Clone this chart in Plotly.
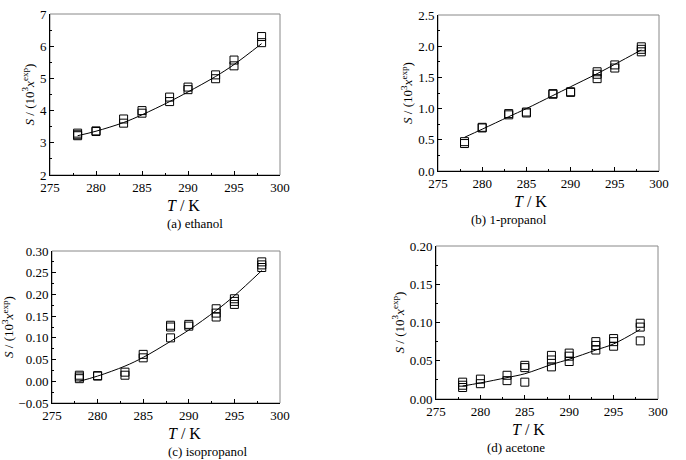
import plotly.graph_objects as go

# ---- data ----
T_fit = [278, 280, 283, 285, 288, 290, 293, 295, 298]

a_T = [278, 278, 278, 280, 280, 283, 283, 285, 285, 288, 288, 290, 290, 293, 293, 295, 295, 298, 298]
a_S = [3.30, 3.25, 3.22, 3.35, 3.37, 3.74, 3.61, 4.00, 3.92, 4.42, 4.28, 4.73, 4.65, 5.11, 4.99, 5.57, 5.39, 6.30, 6.11]
a_fit = [3.22, 3.36, 3.63, 3.87, 4.28, 4.58, 5.06, 5.43, 6.08]

b_T = [278, 278, 280, 280, 283, 283, 285, 285, 288, 288, 290, 290, 293, 293, 293, 295, 295, 298, 298, 298]
b_S = [0.47, 0.44, 0.69, 0.70, 0.92, 0.90, 0.945, 0.93, 1.24, 1.23, 1.27, 1.26, 1.59, 1.55, 1.48, 1.70, 1.65, 1.99, 1.95, 1.91]
b_fit = [0.54, 0.67, 0.87, 1.00, 1.21, 1.35, 1.56, 1.71, 1.94]

c_T = [278, 278, 278, 280, 280, 283, 283, 285, 285, 288, 288, 288, 290, 290, 293, 293, 293, 295, 295, 295, 298, 298, 298]
c_S = [0.014, 0.010, 0.006, 0.012, 0.013, 0.021, 0.014, 0.062, 0.054, 0.129, 0.125, 0.100, 0.131, 0.127, 0.167, 0.157, 0.148, 0.190, 0.184, 0.177, 0.275, 0.268, 0.262]
c_fit = [0.000, 0.012, 0.035, 0.055, 0.092, 0.118, 0.163, 0.197, 0.255]

d_T = [278, 278, 278, 280, 280, 283, 283, 285, 285, 285, 288, 288, 288, 290, 290, 290, 293, 293, 293, 295, 295, 295, 298, 298, 298]
d_S = [0.022, 0.018, 0.015, 0.026, 0.020, 0.031, 0.024, 0.044, 0.041, 0.022, 0.057, 0.051, 0.042, 0.060, 0.056, 0.049, 0.075, 0.070, 0.064, 0.079, 0.075, 0.069, 0.099, 0.094, 0.076]
d_fit = [0.017, 0.021, 0.028, 0.033, 0.045, 0.052, 0.064, 0.072, 0.091]

captions = ["(a) ethanol", "(b) 1-propanol", "(c) isopropanol", "(d) acetone"]
x_ticks = [275, 280, 285, 290, 295, 300]

W, H = 686, 460
# plot boxes in pixels: left, right, top, bottom
panels = [
    dict(T=a_T, S=a_S, fit=a_fit, yr=[2, 7], dt=1, fmt="d", box=(50, 280, 14, 175)),
    dict(T=b_T, S=b_S, fit=b_fit, yr=[0, 2.5], dt=0.5, fmt=".1f", box=(438, 659, 15, 171)),
    dict(T=c_T, S=c_S, fit=c_fit, yr=[-0.05, 0.30], dt=0.05, fmt=".2f", box=(52, 280, 251, 403)),
    dict(T=d_T, S=d_S, fit=d_fit, yr=[0, 0.20], dt=0.05, fmt=".2f", box=(436, 658, 246, 399)),
]

FONT = "Liberation Serif"
fig = go.Figure()
layout = dict(
    width=W, height=H, margin=dict(l=0, r=0, t=0, b=0, autoexpand=False),
    paper_bgcolor="white", plot_bgcolor="white", showlegend=False,
    font=dict(family=FONT, color="black", size=12),
)
shapes = []
annotations = []
for i, p in enumerate(panels):
    n = "" if i == 0 else str(i + 1)
    xa, ya = "x" + n, "y" + n
    l, r, t, b = p["box"]
    xd = [l / W, r / W]
    yd = [1 - b / H, 1 - t / H]
    fig.add_trace(go.Scatter(x=p["T"], y=p["S"], mode="markers", xaxis=xa, yaxis=ya,
                             marker=dict(symbol="square-open", size=8, color="black",
                                         line=dict(width=1, color="black"))))
    fig.add_trace(go.Scatter(x=T_fit, y=p["fit"], mode="lines", xaxis=xa, yaxis=ya,
                             line=dict(color="black", width=1, shape="spline")))
    layout["xaxis" + n] = dict(
        domain=xd, anchor=ya, range=[275, 300], tickvals=x_ticks, automargin=False,
        showline=True, linecolor="black", linewidth=1, ticks="inside", ticklen=4,
        tickcolor="black", showgrid=False, zeroline=False,
        tickfont=dict(family=FONT, size=13),
        minor=dict(ticks="inside", ticklen=2, dtick=2.5, tickcolor="black"),
    )
    layout["yaxis" + n] = dict(
        domain=yd, anchor=xa, range=p["yr"], dtick=p["dt"], tick0=p["yr"][0],
        tickformat=p["fmt"], automargin=False,
        showline=True, linecolor="black", linewidth=1, ticks="inside", ticklen=4,
        tickcolor="black", showgrid=False, zeroline=False,
        tickfont=dict(family=FONT, size=13),
        minor=dict(ticks="inside", ticklen=2, dtick=p["dt"] / 2, tickcolor="black"),
        title=dict(text="<i>S</i> / (10<sup>3</sup><i>x</i><sup>exp</sup>)",
                   font=dict(family=FONT, size=13), standoff=2),
    )
    shapes.append(dict(type="rect", xref=xa + " domain", yref=ya + " domain",
                       x0=0, x1=1, y0=0, y1=1, line=dict(color="#888888", width=1),
                       layer="below"))
    xc = (xd[0] + xd[1]) / 2
    annotations.append(dict(text="<i>T</i> / K", xref="paper", yref="paper", x=xc,
                            y=1 - (b + 30) / H, showarrow=False, yanchor="middle",
                            font=dict(family=FONT, size=16)))
    annotations.append(dict(text=captions[i], xref="paper", yref="paper", x=xc,
                            y=1 - (b + 48) / H, showarrow=False, yanchor="middle",
                            font=dict(family=FONT, size=13)))
layout["shapes"] = shapes
layout["annotations"] = annotations
fig.update_layout(**layout)
fig.write_html("out.html", config={"displayModeBar": False},
               post_script="document.body.style.margin='0';document.body.style.overflow='hidden';")
